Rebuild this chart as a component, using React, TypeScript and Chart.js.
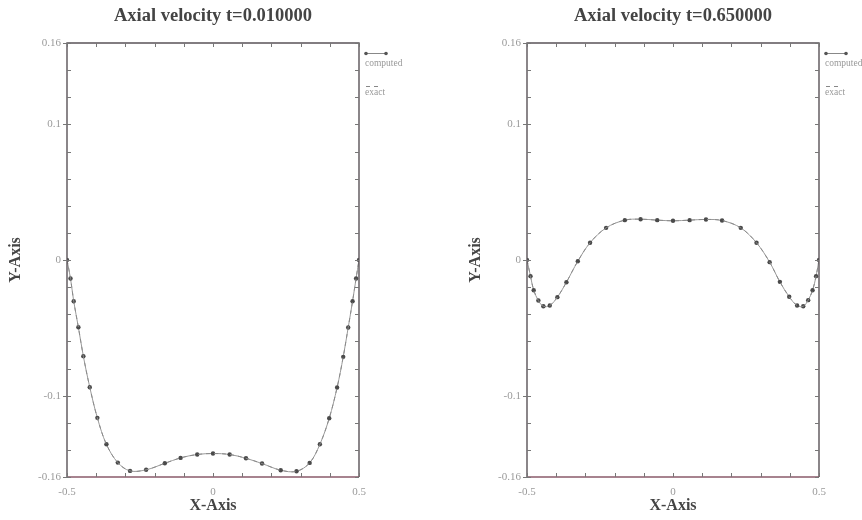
import React, { useEffect, useRef } from 'react';
import { Chart, registerables } from 'chart.js';

Chart.register(...registerables);

// Shared (non-uniform) grid nodes
const xNodes = [
  -0.5, -0.488, -0.477, -0.461, -0.444, -0.422, -0.396, -0.365, -0.326, -0.284,
  -0.229, -0.165, -0.111, -0.054, 0.0, 0.057, 0.113, 0.168, 0.232, 0.286,
  0.331, 0.366, 0.398, 0.425, 0.446, 0.463, 0.478, 0.49, 0.5,
];

const computedT1 = [
  0.0, -0.0136, -0.0304, -0.0496, -0.0709, -0.0938, -0.1164, -0.1359, -0.1494, -0.1555,
  -0.1547, -0.1499, -0.1459, -0.1434, -0.1427, -0.1434, -0.1462, -0.1501, -0.155, -0.1558,
  -0.1496, -0.1359, -0.1167, -0.094, -0.0714, -0.0498, -0.0304, -0.0136, 0.0,
];
const exactT1 = [
  0.0, -0.0136, -0.0304, -0.0496, -0.0709, -0.0938, -0.1164, -0.1359, -0.1494, -0.1555,
  -0.1547, -0.1499, -0.1459, -0.1434, -0.1427, -0.1434, -0.1462, -0.1501, -0.155, -0.1558,
  -0.1496, -0.1359, -0.1167, -0.094, -0.0714, -0.0498, -0.0304, -0.0136, 0.0,
];

const computedT2 = [
  0.0, -0.0119, -0.0223, -0.0299, -0.0341, -0.0336, -0.0274, -0.0164, -0.0009, 0.0127,
  0.0237, 0.0294, 0.0301, 0.0294, 0.0289, 0.0294, 0.0299, 0.0291, 0.0237, 0.0127,
  -0.0016, -0.0161, -0.0271, -0.0336, -0.0341, -0.0296, -0.0223, -0.0119, 0.0,
];
const exactT2 = [
  0.0, -0.0119, -0.0223, -0.0299, -0.0341, -0.0336, -0.0274, -0.0164, -0.0009, 0.0127,
  0.0237, 0.0294, 0.0301, 0.0294, 0.0289, 0.0294, 0.0299, 0.0291, 0.0237, 0.0127,
  -0.0016, -0.0161, -0.0271, -0.0336, -0.0341, -0.0296, -0.0223, -0.0119, 0.0,
];

const titles = ['Axial velocity t=0.010000', 'Axial velocity t=0.650000'];
const legendLabels = ['computed', 'exact'];
const yLabelTicks = [0.16, 0.1, 0, -0.1, -0.16];
const xLabelTicks = [-0.5, 0, 0.5];
const yMinorStep = 0.02;
const xMinorStep = 0.1;

const SERIF = '"Liberation Serif", "DejaVu Serif", serif';

const isLabelled = (v: number, list: number[]) => list.some((t) => Math.abs(t - v) < 1e-6);
const fmt = (v: number) => {
  const r = Math.round(v * 1000) / 1000;
  return String(r);
};

function makePlugin(title: string) {
  return {
    id: 'decor',
    afterDraw(chart: any) {
      const { ctx, chartArea: a, scales } = chart;
      const ys = scales.y;
      const xs = scales.x;
      ctx.save();
      // frame
      ctx.strokeStyle = '#5a5358';
      ctx.lineWidth = 1.4;
      ctx.beginPath();
      ctx.moveTo(a.left, a.bottom);
      ctx.lineTo(a.left, a.top);
      ctx.lineTo(a.right, a.top);
      ctx.lineTo(a.right, a.bottom);
      ctx.stroke();
      ctx.strokeStyle = '#8a5a6a';
      ctx.beginPath();
      ctx.moveTo(a.left, a.bottom);
      ctx.lineTo(a.right, a.bottom);
      ctx.stroke();
      // ticks
      ctx.strokeStyle = '#777';
      ctx.lineWidth = 1;
      ctx.beginPath();
      for (let i = 0; i <= 16; i++) {
        const v = -0.16 + i * yMinorStep;
        const py = Math.round(ys.getPixelForValue(v)) + 0.5;
        ctx.moveTo(a.left, py);
        ctx.lineTo(a.left + 4, py);
        ctx.moveTo(a.right, py);
        ctx.lineTo(a.right - 4, py);
        if (isLabelled(v, yLabelTicks)) {
          ctx.moveTo(a.left, py);
          ctx.lineTo(a.left - 4, py);
        }
      }
      for (let i = 0; i <= 10; i++) {
        const v = -0.5 + i * xMinorStep;
        const px = Math.round(xs.getPixelForValue(v)) + 0.5;
        ctx.moveTo(px, a.top);
        ctx.lineTo(px, a.top + 4);
        ctx.moveTo(px, a.bottom);
        ctx.lineTo(px, a.bottom - 4);
      }
      ctx.stroke();
      // title
      ctx.fillStyle = '#444';
      ctx.font = `bold 18.5px ${SERIF}`;
      ctx.textAlign = 'center';
      ctx.textBaseline = 'middle';
      ctx.fillText(title, (a.left + a.right) / 2, 16);
      // legend
      const lx = a.right + 7;
      ctx.strokeStyle = '#888';
      ctx.lineWidth = 1;
      ctx.beginPath();
      ctx.moveTo(lx, 53.5);
      ctx.lineTo(lx + 20, 53.5);
      ctx.stroke();
      ctx.fillStyle = '#555';
      [lx, lx + 20].forEach((x) => {
        ctx.beginPath();
        ctx.arc(x, 53.5, 1.8, 0, Math.PI * 2);
        ctx.fill();
      });
      ctx.setLineDash([4, 4]);
      ctx.beginPath();
      ctx.moveTo(lx, 86.5);
      ctx.lineTo(lx + 12, 86.5);
      ctx.stroke();
      ctx.setLineDash([]);
      ctx.fillStyle = '#999';
      ctx.font = `9.5px ${SERIF}`;
      ctx.textAlign = 'left';
      ctx.fillText(legendLabels[0], lx - 1, 63);
      ctx.fillText(legendLabels[1], lx - 1, 92);
      ctx.restore();
    },
  };
}

function Panel({ idx, left, width, rightPad }: { idx: number; left: number; width: number; rightPad: number }) {
  const ref = useRef<HTMLCanvasElement | null>(null);
  useEffect(() => {
    if (!ref.current) return;
    const comp = idx === 0 ? computedT1 : computedT2;
    const exact = idx === 0 ? exactT1 : exactT2;
    const chart = new Chart(ref.current, {
      type: 'line',
      data: {
        datasets: [
          {
            label: legendLabels[1],
            data: xNodes.map((x, i) => ({ x, y: exact[i] })),
            borderColor: '#8a8a8a',
            borderWidth: 1,
            borderDash: [4, 4],
            pointRadius: 0,
            tension: 0.35,
            fill: false,
          },
          {
            label: legendLabels[0],
            data: xNodes.map((x, i) => ({ x, y: comp[i] })),
            borderColor: '#9a9a9a',
            borderWidth: 1,
            pointRadius: 2.2,
            pointBackgroundColor: '#4a4a4a',
            pointBorderColor: '#4a4a4a',
            pointBorderWidth: 0,
            tension: 0.35,
            fill: false,
          },
        ],
      },
      options: {
        responsive: false,
        animation: false,
        devicePixelRatio: 1,
        layout: { padding: { top: 43, right: rightPad, left: 0, bottom: 0 } },
        plugins: { legend: { display: false }, tooltip: { enabled: false }, title: { display: false } },
        scales: {
          x: {
            type: 'linear',
            min: -0.5,
            max: 0.5,
            afterFit: (s: any) => {
              s.height = 43;
            },
            grid: { display: false, drawTicks: false },
            border: { display: false },
            ticks: {
              stepSize: xMinorStep,
              autoSkip: false,
              maxRotation: 0,
              padding: 9,
              color: '#9a9a9a',
              font: { family: SERIF, size: 11 },
              callback: (v: any) => (isLabelled(Number(v), xLabelTicks) ? fmt(Number(v)) : ''),
            },
            title: {
              display: true,
              text: 'X-Axis',
              color: '#444',
              font: { family: SERIF, size: 16, weight: 'bold' },
              padding: { top: 0, bottom: 5 },
            },
          },
          y: {
            type: 'linear',
            min: -0.16,
            max: 0.16,
            afterFit: (s: any) => {
              s.width = 67;
            },
            grid: { display: false, drawTicks: false },
            border: { display: false },
            ticks: {
              stepSize: yMinorStep,
              autoSkip: false,
              padding: 6,
              color: '#9a9a9a',
              font: { family: SERIF, size: 11 },
              callback: (v: any) => (isLabelled(Number(v), yLabelTicks) ? fmt(Number(v)) : ''),
            },
            title: {
              display: true,
              text: 'Y-Axis',
              color: '#444',
              font: { family: SERIF, size: 16, weight: 'bold' },
              padding: { top: 6, bottom: 0 },
            },
          },
        },
      },
      plugins: [makePlugin(titles[idx])],
    } as any);
    return () => chart.destroy();
  }, [idx, rightPad]);
  return (
    <canvas
      ref={ref}
      width={width}
      height={520}
      style={{ position: 'absolute', left, top: 0, width, height: 520 }}
    />
  );
}

export default function App() {
  return (
    <div style={{ position: 'fixed', left: 0, top: 0, width: 862, height: 520, background: '#fff' }}>
      <Panel idx={0} left={0} width={431} rightPad={72} />
      <Panel idx={1} left={460} width={402} rightPad={43} />
    </div>
  );
}
